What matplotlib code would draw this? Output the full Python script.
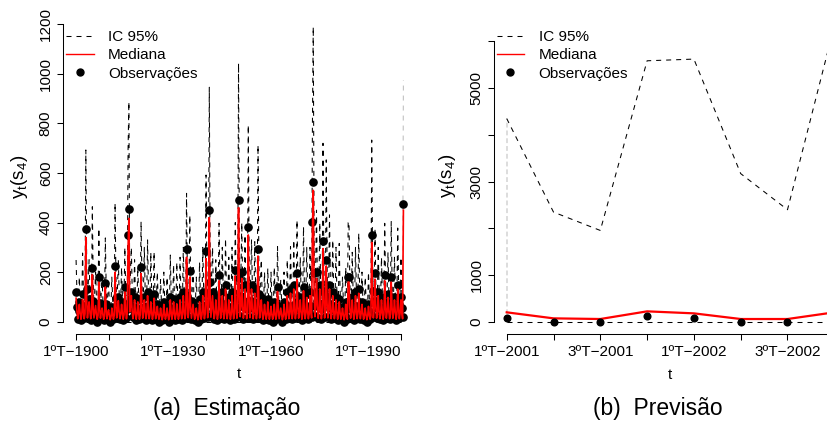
import numpy as np
import matplotlib
matplotlib.use('Agg')
import matplotlib.pyplot as plt
from matplotlib.lines import Line2D

plt.rcParams['font.family'] = ['Liberation Sans', 'DejaVu Sans']
plt.rcParams['mathtext.fontset'] = 'custom'
plt.rcParams['mathtext.rm'] = 'Liberation Sans'
plt.rcParams['mathtext.it'] = 'Liberation Sans:italic'

# ---------------- data: estimation period (quarterly, 1ºT-1900 .. 4ºT-2000) ----------------
start_year = 1900
obs_est = [
    121, 60, 10, 45,  80, 45, 5, 35,   110, 65, 15, 50,  373, 130, 20, 70, 90, 55, 8, 40,
    215, 85, 12, 60,  70, 45, 0, 35,   179, 75, 20, 55,  60, 40, 5, 30,   155, 70, 10, 50,
    50, 35, 0, 25,    60, 45, 10, 30,  226, 95, 15, 65,  100, 60, 10, 45, 80, 50, 5, 35,
    140, 70, 15, 50,  349, 453, 60, 95, 120, 65, 20, 45, 100, 55, 5, 40, 90, 50, 10, 35,
    222, 95, 15, 60,  100, 60, 5, 40,  120, 65, 15, 45, 90, 55, 5, 35,   110, 60, 10, 45,
    70, 45, 0, 30,    60, 40, 5, 25,   80, 50, 10, 35,  60, 40, 0, 25,   100, 55, 10, 40,
    90, 50, 5, 35,    80, 50, 10, 35,  100, 60, 5, 40,  120, 65, 15, 45, 292, 105, 20, 70,
    206, 85, 10, 60,  80, 50, 5, 35,   60, 40, 0, 25,   90, 55, 10, 35,  120, 65, 15, 45,
    287, 115, 20, 75, 451, 160, 25, 95, 120, 65, 10, 45, 100, 55, 5, 40, 188, 80, 15, 55,
    120, 65, 10, 45,  150, 70, 15, 50, 100, 55, 5, 40,  120, 65, 10, 45, 208, 90, 20, 60,
    491, 175, 25, 105, 200, 85, 10, 60, 150, 70, 15, 50, 381, 135, 20, 85, 150, 70, 10, 50,
    130, 65, 15, 45,  293, 110, 20, 75, 100, 55, 5, 40, 80, 50, 10, 35,  90, 50, 5, 35,
    70, 45, 0, 30,    80, 50, 10, 35,  139, 65, 15, 50, 60, 40, 0, 25,   80, 50, 10, 35,
    120, 65, 15, 45,  130, 65, 10, 45, 150, 70, 15, 50, 195, 85, 20, 60, 100, 55, 5, 40,
    140, 70, 15, 50,  110, 60, 10, 40, 120, 65, 20, 404, 563, 195, 25, 115, 200, 85, 15, 60,
    150, 70, 10, 50,  327, 125, 20, 80, 250, 100, 20, 70, 150, 70, 10, 50, 120, 65, 15, 45,
    100, 55, 5, 40,   90, 55, 10, 35,  60, 40, 0, 25,   80, 50, 10, 182, 179, 75, 15, 55,
    100, 55, 5, 40,   120, 65, 15, 45, 130, 65, 10, 45, 80, 50, 5, 35,   60, 40, 0, 25,
    70, 45, 10, 30,   349, 125, 20, 80, 195, 85, 15, 55, 120, 65, 10, 45, 100, 55, 5, 40,
    188, 80, 15, 55,  110, 60, 10, 40, 180, 80, 15, 55, 100, 55, 5, 40,  150, 70, 15, 50,
    100, 55, 20, 473,
]
median_est = [
    95, 45, 12, 35,   70, 35, 10, 28,  90, 45, 12, 32,  340, 90, 15, 50,  80, 40, 12, 30,
    190, 60, 15, 40,  65, 30, 10, 25,  160, 55, 14, 38, 55, 28, 10, 22,  140, 50, 12, 35,
    48, 25, 8, 20,    55, 30, 10, 25,  200, 70, 15, 45, 85, 40, 12, 30,  70, 35, 10, 28,
    120, 48, 12, 35,  300, 417, 40, 65, 105, 45, 12, 32, 88, 40, 10, 30, 80, 36, 10, 28,
    195, 70, 14, 42,  88, 42, 12, 30,  105, 45, 12, 32, 80, 38, 10, 28,  95, 42, 12, 30,
    62, 30, 10, 24,   55, 28, 8, 22,   70, 32, 10, 25,  55, 28, 8, 22,   88, 40, 10, 30,
    80, 36, 10, 28,   72, 34, 10, 26,  88, 40, 12, 30,  105, 45, 12, 32, 260, 80, 16, 48,
    180, 62, 14, 42,  70, 34, 10, 26,  55, 28, 8, 22,   80, 38, 10, 28,  105, 45, 12, 32,
    255, 85, 16, 50,  420, 110, 18, 60, 105, 45, 12, 32, 88, 40, 10, 30, 165, 58, 14, 40,
    105, 45, 12, 32,  132, 50, 12, 36, 88, 40, 10, 30,  105, 45, 12, 32, 185, 65, 14, 42,
    460, 120, 20, 65, 175, 62, 14, 42, 132, 50, 12, 36, 350, 100, 16, 55, 132, 50, 12, 36,
    115, 46, 12, 33,  265, 82, 15, 48, 88, 40, 10, 30,  70, 34, 10, 26,  80, 36, 10, 28,
    62, 30, 10, 24,   70, 34, 10, 26,  122, 48, 12, 34, 55, 28, 8, 22,   70, 34, 10, 26,
    105, 45, 12, 32,  115, 46, 12, 33, 132, 50, 12, 36, 172, 62, 14, 42, 88, 40, 10, 30,
    125, 48, 12, 35,  98, 42, 12, 31,  105, 45, 15, 370, 530, 140, 20, 75, 175, 62, 14, 42,
    132, 50, 12, 36,  295, 92, 15, 52, 225, 75, 15, 48, 132, 50, 12, 36, 105, 45, 12, 32,
    88, 40, 10, 30,   80, 38, 10, 28,  55, 28, 8, 22,   70, 34, 10, 160, 160, 55, 14, 40,
    88, 40, 10, 30,   105, 45, 12, 32, 115, 46, 12, 33, 70, 34, 10, 26,  55, 28, 8, 22,
    62, 30, 10, 24,   320, 95, 15, 52, 172, 62, 14, 40, 105, 45, 12, 32, 88, 40, 10, 30,
    165, 58, 14, 40,  98, 42, 12, 31,  160, 58, 14, 40, 88, 40, 10, 30,  132, 50, 12, 36,
    88, 40, 12, 450,
]
upper_est = [
    249, 120, 40, 100, 180, 95, 35, 80, 277, 130, 45, 110, 693, 260, 60, 160, 250, 120, 40, 90,
    464, 180, 50, 130, 200, 100, 35, 80, 377, 160, 50, 120, 180, 90, 30, 70, 338, 150, 45, 110,
    150, 80, 30, 65,  180, 95, 35, 75, 479, 190, 55, 140, 250, 120, 40, 95, 220, 105, 38, 85,
    300, 140, 45, 105, 700, 888, 150, 200, 300, 140, 45, 100, 250, 115, 40, 90, 220, 105, 38, 85,
    404, 180, 50, 130, 300, 130, 42, 100, 330, 145, 45, 110, 280, 125, 40, 95, 282, 125, 40, 95,
    200, 95, 32, 75,  170, 85, 30, 70, 200, 95, 35, 75, 180, 88, 30, 70, 269, 120, 40, 90,
    230, 110, 38, 85, 240, 110, 38, 85, 260, 120, 40, 90, 300, 135, 45, 100, 518, 200, 55, 150,
    430, 180, 50, 130, 230, 105, 38, 85, 180, 88, 30, 70, 240, 110, 38, 88, 300, 135, 45, 100,
    592, 220, 60, 160, 946, 320, 70, 200, 300, 135, 45, 100, 250, 115, 40, 90, 397, 170, 50, 125,
    300, 135, 45, 100, 336, 150, 45, 110, 260, 118, 40, 92, 300, 135, 45, 100, 400, 175, 50, 130,
    1043, 340, 75, 210, 400, 170, 50, 130, 350, 150, 45, 110, 794, 280, 65, 180, 330, 145, 45, 108,
    323, 140, 45, 105, 713, 250, 60, 165, 250, 115, 40, 90, 200, 95, 35, 75, 215, 100, 36, 80,
    200, 95, 32, 75,  220, 100, 36, 82, 303, 138, 45, 102, 170, 85, 30, 68, 200, 95, 35, 75,
    250, 120, 42, 92, 303, 138, 45, 102, 330, 145, 45, 108, 410, 175, 50, 130, 260, 118, 40, 92,
    383, 160, 48, 120, 300, 135, 45, 100, 300, 140, 50, 807, 1190, 380, 80, 230, 450, 180, 50, 135,
    400, 165, 48, 120, 720, 260, 60, 170, 653, 240, 58, 160, 431, 175, 50, 125, 330, 145, 45, 105,
    300, 130, 42, 98, 316, 135, 42, 100, 180, 88, 30, 70, 220, 100, 36, 400, 404, 170, 50, 125,
    280, 125, 40, 95, 300, 135, 45, 100, 357, 150, 45, 110, 200, 95, 35, 75, 180, 88, 30, 70,
    200, 95, 32, 75,  733, 250, 60, 165, 377, 160, 48, 120, 300, 135, 45, 100, 260, 118, 40, 92,
    397, 170, 50, 125, 280, 125, 40, 95, 404, 170, 50, 125, 260, 118, 40, 92, 378, 160, 48, 120,
    260, 120, 45, 975,
]
lower_est = [0] * len(obs_est)

est_tick_years = [1900, 1910, 1920, 1930, 1940, 1950, 1960, 1970, 1980, 1990, 2000]
est_tick_labels = ['1ºT−1900', '', '', '1ºT−1930', '', '', '1ºT−1960', '', '', '1ºT−1990', '']
est_yticks = [0, 200, 400, 600, 800, 1000, 1200]

# ---------------- data: forecast period (1ºT-2001 .. 4ºT-2002) ----------------
prev_labels = ['1ºT−2001', '', '3ºT−2001', '', '1ºT−2002', '', '3ºT−2002', '']
obs_prev = [79, 0, 0, 129, 70, 0, 0, 80]
median_prev = [200, 71, 57, 221, 178, 57, 57, 200]
upper_prev = [4350, 2346, 1953, 5586, 5622, 3170, 2397, 6330]
lower_prev = [0, 0, 0, 0, 0, 0, 0, 0]
prev_yticks = [0, 1000, 2000, 3000, 4000, 5000, 6000]
prev_ytick_labels = ['0', '1000', '', '3000', '', '5000', '']

# ---------------- figure ----------------
W, H = 827, 421
fig = plt.figure(figsize=(W / 100, H / 100), dpi=100)


def add_px_axes(x0, x1, y0, y1):
    return fig.add_axes([x0 / W, 1 - y1 / H, (x1 - x0) / W, (y1 - y0) / H])


DASH = (0, (4.8, 4.8))
FS = 11


def style_axes(ax):
    for s in ['top', 'right']:
        ax.spines[s].set_visible(False)
    for s in ['left', 'bottom']:
        ax.spines[s].set_linewidth(0.75)
    ax.tick_params(direction='out', length=4.3, width=0.75, labelsize=FS)
    ax.tick_params(axis='x', pad=3.5)
    ax.tick_params(axis='y', pad=3.0)
    ax.patch.set_visible(False)


def add_legend(ax, xfrac, yfrac):
    handles = [
        Line2D([], [], color='black', lw=0.75, linestyle=DASH),
        Line2D([], [], color='red', lw=1.0),
        Line2D([], [], color='black', lw=0, marker='o', markersize=5),
    ]
    labels = ['IC 95%', 'Mediana', 'Observações']
    ax.legend(handles, labels, loc='upper left', bbox_to_anchor=(xfrac, yfrac),
              frameon=False, fontsize=FS, handlelength=1.8, handletextpad=0.95,
              labelspacing=0.28, borderaxespad=0, borderpad=0)


# ----- left panel: estimation -----
axL = add_px_axes(63, 416.5, 14.5, 334)
t_est = start_year + np.arange(len(obs_est)) / 4.0
n = len(obs_est)
axL.plot(t_est[:n - 1], upper_est[:n - 1], color='black', lw=0.75, linestyle=DASH)
axL.plot(t_est[n - 2:], upper_est[n - 2:], color='#BEBEBE', lw=0.75, linestyle=DASH)
axL.plot(t_est, lower_est, color='black', lw=0.75, linestyle=DASH)
axL.plot(t_est, obs_est, linestyle='none', marker='o', markersize=5.2, color='black')
axL.plot(t_est, median_est, color='red', lw=1.2)
axL.set_xlim(1895.97, 2004.78)
axL.set_ylim(-49.6, 1239.6)
style_axes(axL)
axL.spines['left'].set_bounds(0, 1200)
axL.spines['bottom'].set_bounds(1900, 2000)
axL.set_xticks(est_tick_years)
axL.set_xticklabels(est_tick_labels)
axL.set_yticks(est_yticks)
axL.set_yticklabels([str(v) for v in est_yticks], rotation=90, va='center')
add_legend(axL, 0.0085, 0.951)

# ----- right panel: forecast -----
axR = add_px_axes(493.6, 847.4, 14.5, 334)
x_prev = np.arange(len(obs_prev))
axR.plot([x_prev[0], x_prev[0]], [lower_prev[0], upper_prev[0]], color='#DDDDDD',
         lw=1.4, linestyle=(0, (2.5, 1.5)))
axR.plot(x_prev, upper_prev, color='black', lw=0.75, linestyle=DASH)
axR.plot(x_prev, lower_prev, color='black', lw=0.75, linestyle=DASH)
axR.plot(x_prev, median_prev, color='red', lw=1.6)
axR.plot(x_prev, obs_prev, linestyle='none', marker='o', markersize=4.8, color='black')
axR.set_xlim(-0.28, 7.28)
axR.set_ylim(-264, 6577)
style_axes(axR)
axR.spines['left'].set_bounds(0, 6000)
axR.spines['bottom'].set_bounds(0, 7)
axR.set_xticks(x_prev)
axR.set_xticklabels(prev_labels)
axR.set_yticks(prev_yticks)
axR.set_yticklabels(prev_ytick_labels, rotation=90, va='center')
add_legend(axR, 0.0088, 0.951)

# ----- axis titles and captions -----
def ftext(x, y, s, **kw):
    fig.text(x / W, 1 - y / H, s, ha='center', va='center', **kw)

ylab = r'$\mathrm{y_t(s_4)}$'
ftext(20, 177, ylab, fontsize=13.5, rotation=90)
ftext(448, 176, ylab, fontsize=13.5, rotation=90)
ftext(239, 374, 't', fontsize=FS)
ftext(670, 375, 't', fontsize=FS)
ftext(227, 408, '(a)  Estimação', fontsize=16.5)
ftext(658, 408, '(b)  Previsão', fontsize=16.5)

fig.savefig('out.png', dpi=100)
